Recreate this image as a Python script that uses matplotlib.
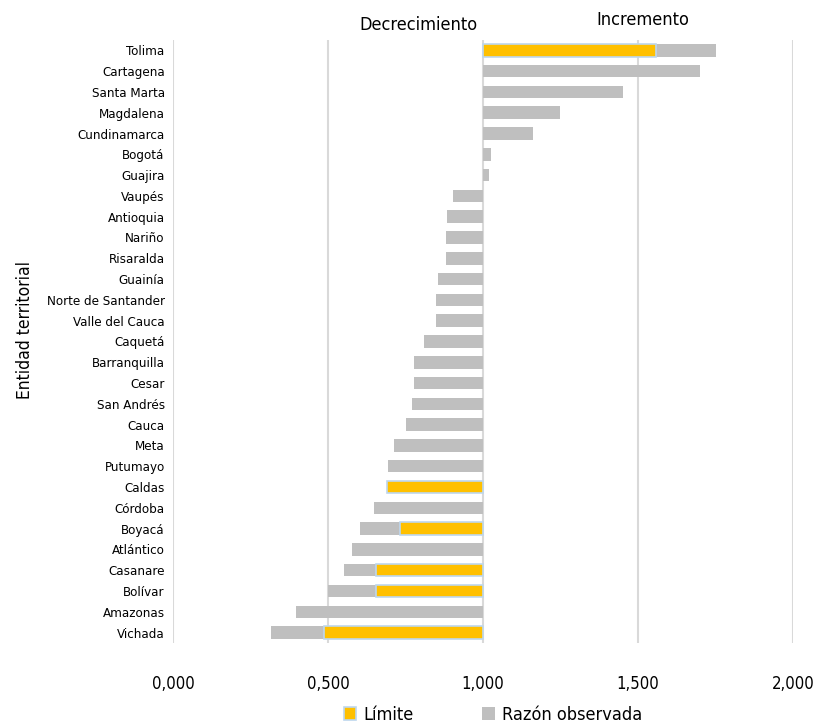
import numpy as np
import matplotlib.pyplot as plt
from matplotlib import font_manager

entidades = ["Tolima", "Cartagena", "Santa Marta", "Magdalena", "Cundinamarca", "Bogotá",
             "Guajira", "Vaupés", "Antioquia", "Nariño", "Risaralda", "Guainía",
             "Norte de Santander", "Valle del Cauca", "Caquetá", "Barranquilla", "Cesar",
             "San Andrés", "Cauca", "Meta", "Putumayo", "Caldas", "Córdoba", "Boyacá",
             "Atlántico", "Casanare", "Bolívar", "Amazonas", "Vichada"]
razon = [1.752, 1.701, 1.450, 1.249, 1.161, 1.027, 1.019, 0.904, 0.885, 0.880, 0.880, 0.854,
         0.848, 0.848, 0.809, 0.777, 0.777, 0.771, 0.752, 0.713, 0.694, 0.690, 0.649, 0.604,
         0.578, 0.552, 0.501, 0.398, 0.315]
limite = [1.557, np.nan, np.nan, np.nan, np.nan, np.nan, np.nan, np.nan, np.nan, np.nan,
          np.nan, np.nan, np.nan, np.nan, np.nan, np.nan, np.nan, np.nan, np.nan, np.nan,
          np.nan, 0.690, np.nan, 0.732, np.nan, 0.655, 0.655, np.nan, 0.488]
ticks = [0, 0.5, 1.0, 1.5, 2.0]
tick_labels = ["0,000", "0,500", "1,000", "1,500", "2,000"]

# fuente angosta si existe
condensada = any(f.name == "DejaVu Sans" and f.stretch == "condensed"
                 for f in font_manager.fontManager.ttflist)
if condensada:
    plt.rcParams['font.family'] = ['DejaVu Sans']
    plt.rcParams['font.stretch'] = 'condensed'
else:
    plt.rcParams['font.family'] = ['Liberation Sans', 'DejaVu Sans']

fig = plt.figure(figsize=(8.21, 7.26), dpi=100)
ax = fig.add_axes([0.2107, 0.1143, 0.7553, 0.8307])

y = np.arange(len(entidades))
razon = np.array(razon)
limite = np.array(limite)

ax.barh(y, razon - 1, left=1, height=0.6, color="#BFBFBF", label="Razón observada", zorder=2)
ok = ~np.isnan(limite)
ax.barh(y[ok], limite[ok] - 1, left=1, height=0.6, color="#FFC000",
        edgecolor="#BDD7EE", linewidth=1.2, label="Límite", zorder=3)

ax.set_xlim(0, 2)
ax.set_ylim(len(entidades) - 0.5, -0.5)
ax.set_xticks(ticks)
ax.set_xticklabels(tick_labels, fontsize=12)
ax.set_yticks(y)
ax.set_yticklabels(entidades, fontsize=9.5)
ax.tick_params(axis='x', length=0, pad=23)
ax.tick_params(axis='y', length=0, pad=6)
ax.grid(axis='x', color="#D9D9D9", linewidth=1.5, zorder=0)
ax.set_axisbelow(True)
for s in ax.spines.values():
    s.set_visible(False)

fig.text(25 / 821, 1 - 330 / 726, "Entidad territorial", rotation=90, ha="center",
         va="center", fontsize=12.5)
fig.text(418 / 821, 1 - 25 / 726, "Decrecimiento", ha="center", va="center", fontsize=13)
fig.text(643 / 821, 1 - 20 / 726, "Incremento", ha="center", va="center", fontsize=13)

h, l = ax.get_legend_handles_labels()
fig.legend(h[::-1], l[::-1], loc="center", bbox_to_anchor=(493 / 821, 1 - 715 / 726),
           ncol=2, frameon=False, fontsize=13, handlelength=0.7, handleheight=0.7,
           handletextpad=0.4, columnspacing=3.8)

fig.savefig("out.png", dpi=100)
